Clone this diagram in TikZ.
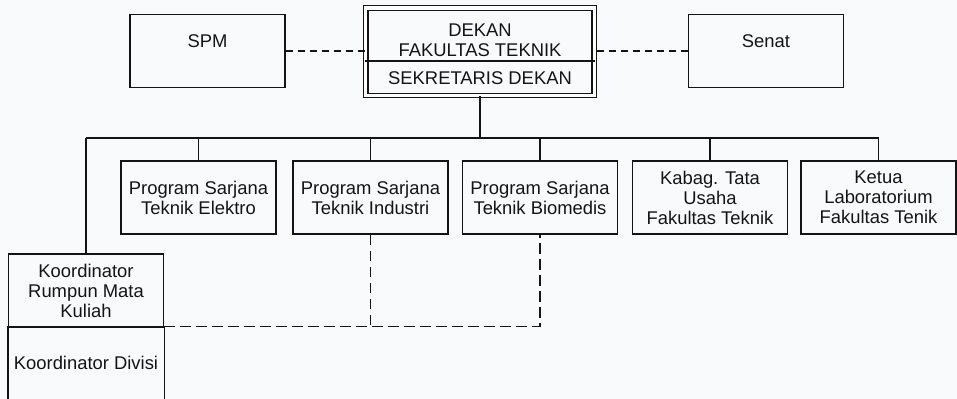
\documentclass[tikz,border=0pt]{standalone}
\usepackage{fontspec}
\setmainfont{Liberation Sans}
\usepackage{tikz}
\definecolor{pagebg}{RGB}{248,250,252}
\definecolor{ink}{RGB}{20,20,20}

\begin{document}
\begin{tikzpicture}[x=0.75pt,y=-0.75pt,
	txt/.style={align=center,inner sep=2pt,text=ink,font=\fontsize{13.8}{15}\selectfont},
	unit/.style={txt,draw=ink,line width=1.1pt,minimum width=116.25pt,minimum height=54.75pt},
	link/.style={draw=ink,line width=1.1pt},
	dashlink/.style={draw=ink,line width=1.1pt,dash pattern=on 5.25pt off 3.75pt},
	longdash/.style={draw=ink,line width=1.1pt,dash pattern=on 8pt off 4pt}]
\fill[pagebg] (0,0) rectangle (957,399);
\useasboundingbox (0,0) rectangle (957,399);
\path (207.5,51) node[unit](spm) {SPM\\\mbox{}}
		(766,51) node[unit](senat) {Senat\\\mbox{}}
		(480,51.75) node[unit,double,double distance=2.4pt,line width=0.9pt,minimum width=171.4pt,minimum height=65.6pt](dekan) {}
		(480,40) node[txt](dekantitle) {DEKAN\\FAKULTAS TEKNIK}
		(480,78) node[txt](sekdekan) {SEKRETARIS DEKAN}
		(198.5,197.5) node[unit](elektro) {Program Sarjana\\Teknik Elektro}
		(370.5,197.5) node[unit](industri) {Program Sarjana\\Teknik Industri}
		(540,197.5) node[unit](biomedis) {Program Sarjana\\Teknik Biomedis}
		(710,197.5) node[unit](kabag) {Kabag. Tata\\Usaha\\Fakultas Teknik}
		(878.5,197.5) node[unit](ketua) {Ketua\\Laboratorium\\Fakultas Tenik}
		(86,290.5) node[unit](koor) {Koordinator\\Rumpun Mata\\Kuliah}
		(86,363) node[unit,draw=none,minimum height=54pt](kdivisi) {Koordinator Divisi}
		;
	\coordinate (split) at (480,61);
	\coordinate (bus) at (480,138);
	% dekan box divider
	\draw[link] (dekan.west |- split) -- (dekan.east |- split);
	% side units
	\draw[dashlink] (node cs:name=spm,anchor=east) -- (dekan.west |- spm.east);
	\draw[dashlink] (node cs:name=senat,anchor=west) -- (dekan.east |- senat.west);
	% main line
	\draw[link] (node cs:name=dekan,anchor=south) -- (bus);
	\draw[link] (koor.north |- bus) -- (ketua.north |- bus);
	\draw[link] (node cs:name=koor,anchor=north) -- (koor.north |- bus);
	\draw[link] (node cs:name=elektro,anchor=north) -- (elektro.north |- bus);
	\draw[link] (node cs:name=industri,anchor=north) -- (industri.north |- bus);
	\draw[link] (node cs:name=biomedis,anchor=north) -- (biomedis.north |- bus);
	\draw[link] (node cs:name=kabag,anchor=north) -- (kabag.north |- bus);
	\draw[link] (node cs:name=ketua,anchor=north) -- (ketua.north |- bus);
	% koordinator divisi box, open at the bottom
	\draw[link] (kdivisi.south west) -- (kdivisi.north west) -- (kdivisi.north east) -- (kdivisi.south east);
	% koordinasi
	\draw[longdash] (node cs:name=industri,anchor=south) -- (industri.south |- kdivisi.north);
	\draw[longdash] (kdivisi.north east) -- (biomedis.south |- kdivisi.north)
		-- (node cs:name=biomedis,anchor=south);
\end{tikzpicture}
\end{document}
